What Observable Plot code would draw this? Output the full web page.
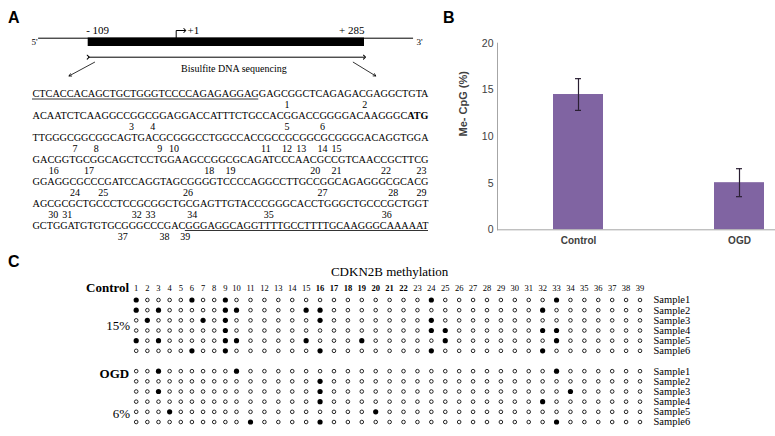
<!DOCTYPE html>
<html><head><meta charset="utf-8">
<script src="https://cdn.jsdelivr.net/npm/d3@7"></script>
<script src="https://cdn.jsdelivr.net/npm/@observablehq/plot@0.6"></script>
<style>
html,body{margin:0;padding:0;background:#fff;overflow:hidden}
#wrap{position:relative;width:775px;height:436px;overflow:hidden;background:#fff}
#wrap svg{position:absolute;left:0;top:0}
.pl{position:absolute;font:bold 16px "Liberation Sans",Arial,sans-serif;line-height:16px;color:#000}
</style></head><body>
<div id="wrap">
<div class="pl" style="left:8px;top:10px">A</div>
<div class="pl" style="left:443px;top:10px">B</div>
<div class="pl" style="left:8px;top:254px">C</div>
</div>
<script>
// ---------------- DATA ----------------
// Panel A: promoter schematic (bp relative to TSS)
const promoterRegion = [-109, 285];
const tssPosition = 1;
const drawnFlanks = [-171, 359];
const regionLabels = ["- 109", "+1", "+ 285"];
const endLabels = ["5'", "3'"];
const assayLabel = "Bisulfite DNA sequencing";
const pointerArrows = [[-101, -133], [268, 302]];

// Panel A: sequenced fragment
const seqLines = [
  "CTCACCACAGCTGCTGGGTCCCCAGAGAGGAGGAGCGGCTCAGAGACGAGGCTGTA",
  "ACAATCTCAAGGCCGGCGGAGGACCATTTCTGCCACGGACCGGGGACAAGGGCATG",
  "TTGGGCGGCGGCAGTGACGCGGGCCTGGCCACCGCCGCGGCGCGGGGACAGGTGGA",
  "GACGGTGCGGCAGCTCCTGGAAGCCGGCGCAGATCCCAACGCCGTCAACCGCTTCG",
  "GGAGGCGCCCGATCCAGGTAGCGGGGTCCCCAGGCCTTGCCGGCAGAGGGCGCACG",
  "AGCGCGCTGCCCTCCGCGGCTGCGAGTTGTACCCGGGCACCTGGGCTGCCCGCTGGT",
  "GCTGGATGTGTGCGGGCCCGACGGGAGGCAGGTTTTGCCTTTTGCAAGGGCAAAAAT"
];
// character ranges [line, from, to) with a style
const styledRuns = [
  {line: 0, from: 0, to: 32, style: "underline"},
  {line: 1, from: 53, to: 56, style: "bold"},
  {line: 6, from: 22, to: 57, style: "underline"}
];
// index of the C of each numbered CpG, per sequence line
const cpgCPositions = [
  [35, 46],
  [13, 16, 35, 40],
  [5, 8, 17, 19, 32, 35, 37, 40, 42],
  [2, 7, 24, 27, 39, 42, 49, 54],
  [5, 9, 21, 40, 50, 54],
  [2, 4, 14, 16, 22, 33, 50],
  [12, 18, 21]
];

// Panel B: bar chart
const groups = ["Control", "OGD"];
const meCpG = [14.5, 5.05];
const meCpGError = [1.7, 1.5];
const yTicks = [0, 5, 10, 15, 20];
const yLabel = "Me- CpG (%)";

// Panel C: methylation map
const mapTitle = "CDKN2B methylation";
const cpgSites = [1,2,3,4,5,6,7,8,9,10,11,12,13,14,15,16,17,18,19,20,21,22,23,24,25,26,27,28,29,30,31,32,33,34,35,36,37,38,39];
const boldSites = [16,17,18,19,20,21,22];
const sampleNames = ["Sample1","Sample2","Sample3","Sample4","Sample5","Sample6"];
const groupNames = ["Control", "OGD"];
const groupPercent = ["15%", "6%"];
const controlMethylated = [[1,6,9,24,33],[1,3,9,10,15,16,32],[2,7,9,16,24],[9,24,25,32,33],[1,3,9,10,15,19,25,33],[6,9,16,24,32]];
const ogdMethylated = [[3,10,33],[16],[3,16,34],[16,32],[4,20],[11,16,33]];

// ---------------- LAYOUT / STYLE ----------------
const W = 775, H = 436;
const serif = '"Liberation Serif","Times New Roman",serif';
const sans = '"Liberation Sans",Arial,sans-serif';
const wrap = document.getElementById("wrap");
const baseStyle = {background: "transparent"};

// ---- Panel A schematic ----
const dg = {line: 37.7, boxTop: 37.5, boxBot: 46, label: 30, span: 56.7, spanText: 68.3, diagTop: 61.7, diagBot: 75.5};
const midRegion = (promoterRegion[0] + promoterRegion[1]) / 2;
const schematic = Plot.plot({
  width: W, height: H, margin: 0, style: {...baseStyle, fontFamily: serif},
  x: {type: "linear", domain: [promoterRegion[0], tssPosition, promoterRegion[1]], range: [87.7, 175.7, 364], axis: null},
  y: {type: "linear", domain: [0, H], range: [0, H], axis: null},
  marks: [
    Plot.ruleY([dg.line], {x1: drawnFlanks[0], x2: drawnFlanks[1], stroke: "#000", strokeWidth: 1}),
    Plot.rect([promoterRegion], {x1: d => d[0], x2: d => d[1], y1: dg.boxTop, y2: dg.boxBot, fill: "#000"}),
    Plot.line([{x: tssPosition, y: dg.line}, {x: tssPosition, y: dg.label}, {x: tssPosition + 13, y: dg.label}],
      {x: "x", y: "y", stroke: "#000", strokeWidth: 1, markerEnd: "arrow"}),
    Plot.text([regionLabels[0]], {x: promoterRegion[0], y: dg.label, textAnchor: "start", dx: -2, fontSize: 11, fontFamily: serif}),
    Plot.text([regionLabels[1]], {x: tssPosition + 17, y: dg.label, textAnchor: "start", fontSize: 11, fontFamily: serif}),
    Plot.text([regionLabels[2]], {x: promoterRegion[1], y: dg.label, textAnchor: "end", fontSize: 11, fontFamily: serif}),
    Plot.text([endLabels[0]], {x: drawnFlanks[0], y: dg.line + 4, textAnchor: "end", dx: -1, fontSize: 9, fontFamily: serif}),
    Plot.text([endLabels[1]], {x: drawnFlanks[1], y: dg.line + 4, textAnchor: "start", dx: 3, fontSize: 9, fontFamily: serif}),
    Plot.link([promoterRegion], {x1: d => d[0], x2: d => d[1], y1: dg.span, y2: dg.span, stroke: "#000", strokeWidth: 1, markerStart: "arrow", markerEnd: "arrow"}),
    Plot.text([assayLabel], {x: midRegion, y: dg.spanText, fontSize: 10, fontFamily: serif}),
    Plot.arrow(pointerArrows, {x1: d => d[0], x2: d => d[1], y1: dg.diagTop, y2: dg.diagBot, stroke: "#000", strokeWidth: 0.8, headLength: 5})
  ]
});
wrap.appendChild(schematic);

// ---- Panel A sequence ----
const segs = [];
seqLines.forEach((s, li) => {
  const runs = styledRuns.filter(r => r.line === li);
  const cuts = Array.from(new Set([0, s.length, ...runs.flatMap(r => [r.from, r.to])])).sort((a, b) => a - b);
  for (let k = 0; k < cuts.length - 1; k++) {
    const from = cuts[k], to = cuts[k + 1];
    const run = runs.find(r => r.from <= from && r.to >= to);
    segs.push({line: li, from, to, len: s.length, text: s.slice(from, to), style: run ? run.style : "normal"});
  }
});
const cpgLabels = [];
let siteCounter = 0;
cpgCPositions.forEach((arr, li) => arr.forEach(p => { siteCounter++; cpgLabels.push({line: li, pos: p + 1, len: seqLines[li].length, site: siteCounter}); }));
const normalSegs = segs.filter(d => d.style !== "bold");
const boldSegs = segs.filter(d => d.style === "bold");
const underSegs = segs.filter(d => d.style === "underline");
const seqPlot = Plot.plot({
  width: W, height: H, margin: 0, style: {...baseStyle, fontFamily: serif},
  x: {domain: [0, 1], range: [32, 428], axis: null},
  y: {domain: [0, 6], range: [93.5, 225], axis: null},
  marks: [
    Plot.text(normalSegs, {x: d => d.from / d.len, y: "line", text: "text", textAnchor: "start", fontSize: 10.5, fontFamily: serif, fill: "#000", ariaDescription: "seqn"}),
    Plot.text(boldSegs, {x: d => d.from / d.len, y: "line", text: "text", textAnchor: "start", fontSize: 10.5, fontWeight: "bold", fontFamily: serif, fill: "#000", ariaDescription: "seqb"}),
    Plot.ruleY(underSegs, {y: "line", x1: d => d.from / d.len, x2: d => d.to / d.len, dy: 5, stroke: "#000", strokeWidth: 0.8}),
    Plot.text(cpgLabels, {x: d => d.pos / d.len, y: "line", dy: 11, text: d => String(d.site), fontSize: 10, fontFamily: serif, fill: "#000"})
  ]
});
{
  const sx = seqPlot.scale("x");
  const span = sx.apply(1) - sx.apply(0);
  const fit = (sel, data) => d3.select(seqPlot).selectAll(sel).each(function(_, i) {
    const d = data[i];
    this.setAttribute("textLength", ((d.to - d.from) / d.len * span).toFixed(2));
    this.setAttribute("lengthAdjust", "spacingAndGlyphs");
  });
  fit('g[aria-description="seqn"] text', normalSegs);
  fit('g[aria-description="seqb"] text', boldSegs);
}
wrap.appendChild(seqPlot);

// ---- Panel B ----
const bars = groups.map((g, i) => ({group: g, value: meCpG[i], err: meCpGError[i]}));
const barPlot = Plot.plot({
  width: W, height: H, marginLeft: 497, marginTop: 42.7, marginBottom: H - 229.3, marginRight: 0,
  style: {...baseStyle, fontFamily: sans},
  x: {domain: groups, range: [498, 820], paddingInner: 0.689, paddingOuter: 0.3445, axis: null},
  y: {domain: [0, 20], axis: null},
  marks: [
    Plot.barY(bars, {x: "group", y: "value", fill: "#8064a2"}),
    Plot.ruleY([0], {stroke: "#a6a6a6", strokeWidth: 1}),
    Plot.frame({anchor: "left", stroke: "#a6a6a6", strokeWidth: 1}),
    Plot.ruleX(bars, {x: "group", y1: d => d.value - d.err, y2: d => d.value + d.err, stroke: "#2a1f33", strokeWidth: 1.2}),
    Plot.tickY(bars, {x: "group", y: d => d.value + d.err, insetLeft: 22, insetRight: 22, stroke: "#2a1f33", strokeWidth: 1.2}),
    Plot.tickY(bars, {x: "group", y: d => d.value - d.err, insetLeft: 22, insetRight: 22, stroke: "#2a1f33", strokeWidth: 1.2}),
    Plot.axisY({ticks: yTicks, tickSize: 0, tickPadding: 4, fontSize: 10.5, fill: "#404040", label: null}),
    Plot.axisX({tickSize: 0, tickPadding: 7.5, fontSize: 10, fontWeight: "bold", fill: "#404040", label: null}),
    Plot.text([yLabel], {frameAnchor: "left", rotate: -90, dx: -34, fontSize: 11, fontWeight: "bold", fill: "#404040"})
  ]
});
wrap.appendChild(barPlot);

// ---- Panel C ----
const groupMeth = [controlMethylated, ogdMethylated];
const cells = [];
const rowLabels = [];
groupMeth.forEach((gm, gi) => gm.forEach((meth, si) => {
  const row = gi * 7 + si;
  rowLabels.push({row, name: sampleNames[si]});
  cpgSites.forEach(site => cells.push({row, site, m: meth.includes(site)}));
}));
const headerY = -1.15;
const groupLabelRows = [headerY, 7.3];
const percentRows = [2.5, 11.15];
const mapPlot = Plot.plot({
  width: W, height: H, margin: 0, style: {...baseStyle, fontFamily: serif},
  x: {type: "linear", domain: [1, 10, 11, 39], range: [135.7, 236, 250, 639.5], axis: null},
  y: {domain: [0, 12], range: [299.5, 421.5], axis: null},
  marks: [
    Plot.text([mapTitle], {x: 21, y: -2.75, fontSize: 13, fontFamily: serif, fill: "#000"}),
    Plot.text(cpgSites.filter(s => !boldSites.includes(s)), {x: d => d, y: headerY, text: d => String(d), fontSize: 8.5, fontFamily: serif, fill: "#000"}),
    Plot.text(boldSites, {x: d => d, y: headerY, text: d => String(d), fontSize: 8.5, fontWeight: "bold", fontFamily: serif, fill: "#000"}),
    Plot.text(groupNames, {x: 1, y: (d, i) => groupLabelRows[i], textAnchor: "end", dx: -7, fontSize: 13, fontWeight: "bold", fontFamily: serif, fill: "#000"}),
    Plot.text(groupPercent, {x: 1, y: (d, i) => percentRows[i], textAnchor: "end", dx: -6, fontSize: 13, fontFamily: serif, fill: "#000"}),
    Plot.dot(cells.filter(d => !d.m), {x: "site", y: "row", r: 1.8, fill: "#fff", stroke: "#000", strokeWidth: 0.85}),
    Plot.dot(cells.filter(d => d.m), {x: "site", y: "row", r: 2.6, fill: "#000"}),
    Plot.text(rowLabels, {x: 39, y: "row", text: "name", textAnchor: "start", dx: 13.5, fontSize: 10.5, fontFamily: serif, fill: "#000"})
  ]
});
wrap.appendChild(mapPlot);
</script>
</body></html>
